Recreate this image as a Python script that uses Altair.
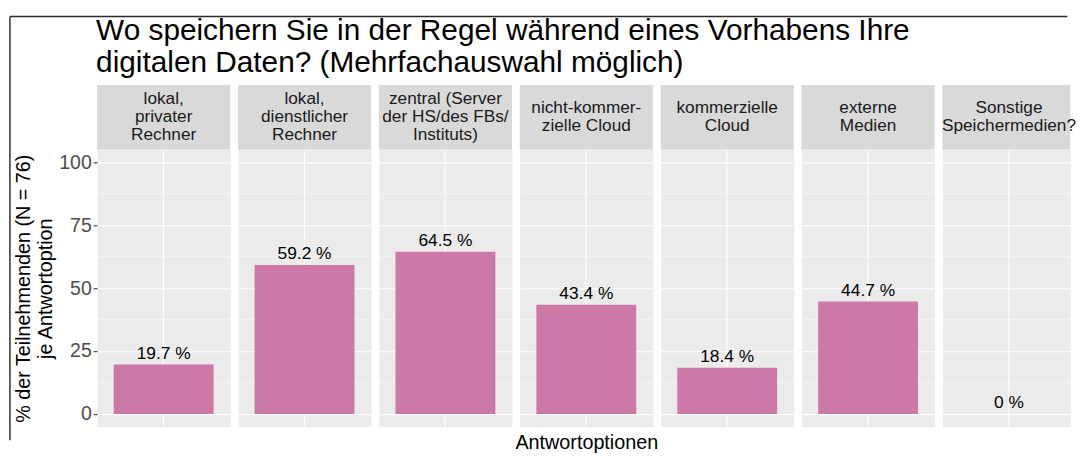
import altair as alt
import pandas as pd

# ---- data ----
strips = [
    "lokal,\nprivater\nRechner",
    "lokal,\ndienstlicher\nRechner",
    "zentral (Server\nder HS/des FBs/\nInstituts)",
    "nicht-kommer-\nzielle Cloud",
    "kommerzielle\nCloud",
    "externe\nMedien",
    "Sonstige\nSpeichermedien?",
]
values = [19.7, 59.2, 64.5, 43.4, 18.4, 44.7, 0]
labels = ["19.7 %", "59.2 %", "64.5 %", "43.4 %", "18.4 %", "44.7 %", "0 %"]
y_ticks = [0, 25, 50, 75, 100]
minor_ticks = [12.5, 37.5, 62.5, 87.5]
title_lines = [
    "Wo speichern Sie in der Regel während eines Vorhabens Ihre",
    "digitalen Daten? (Mehrfachauswahl möglich)",
]
y_title = ["% der Teilnehmenden (N = 76)", "je Antwortoption"]
x_title = "Antwortoptionen"

FONT = "Liberation Sans"
W = 137.5
W_LAST = 132          # last panel is cut by the window edge, as in the reference
SPACING = 7.5
H = 286
STRIP_H = 67
STRIP_LH = 18.7
STRIP_FS = 17.8
BAR_COLOR = "#CC79A7"

yscale = alt.Scale(domain=[-5, 105], nice=False, zero=False)


def panel(i):
    last = i == len(values) - 1
    pw = W_LAST if last else W
    xscale = alt.Scale(paddingInner=0, paddingOuter=1 / 6, range=[0, W])
    df = pd.DataFrame({
        "cat": [f"c{i}"],
        "strip": [strips[i]],
        "value": [values[i]],
        "label": [labels[i]],
    })
    if i == 0:
        yaxis = alt.Axis(
            values=y_ticks, title=y_title, labelFontSize=20.1, labelColor="#4D4D4D",
            tickColor="#333333", tickSize=4, tickWidth=1.1, labelPadding=2,
            domain=False, titleFontSize=20.4, titleColor="black",
            titleFontWeight="normal", titlePadding=4, titleLineHeight=22.4,
            grid=True,
        )
    else:
        yaxis = alt.Axis(values=y_ticks, labels=False, ticks=False, title=None,
                         domain=False, grid=True)
    xaxis = alt.Axis(
        labels=False, ticks=False, domain=False, grid=True,
        title=x_title if i == 3 else None,
        titleFontSize=20.4, titleColor="black", titleFontWeight="normal",
        titlePadding=7,
    )

    def yenc(field):
        return alt.Y(field, type="quantitative", scale=yscale, axis=yaxis)

    base = alt.Chart(df)
    minor = alt.Chart(pd.DataFrame({"value": minor_ticks})).mark_rule(
        color="white", strokeWidth=0.55
    ).encode(y=yenc("value"))
    bars = base.mark_bar(color=BAR_COLOR).encode(
        x=alt.X("cat:N", scale=xscale, axis=xaxis),
        y=yenc("value"),
    )
    text = base.mark_text(
        dy=-6, baseline="alphabetic", fontSize=17.9, font=FONT, color="black"
    ).encode(
        x=alt.X("cat:N", scale=xscale, axis=xaxis),
        y=yenc("value"),
        text="label:N",
    )
    strip_bg = base.mark_rect(color="#D9D9D9").encode(
        x=alt.value(0), x2=alt.value(pw), y=alt.value(-STRIP_H), y2=alt.value(0)
    )
    n_lines = strips[i].count("\n") + 1
    strip_y = -STRIP_H / 2 - (n_lines - 1) / 2 * STRIP_LH
    strip_txt = base.mark_text(
        baseline="middle", align="center", fontSize=STRIP_FS, lineHeight=STRIP_LH,
        lineBreak="\n", font=FONT, color="#1A1A1A"
    ).encode(x=alt.value(W / 2), y=alt.value(strip_y), text="strip:N")

    layers = [minor, bars, text, strip_bg, strip_txt]
    if i == 0:
        tdf = pd.DataFrame({"t": [0]})
        for k, line in enumerate(title_lines):
            layers.append(
                alt.Chart(pd.DataFrame({"t": [line]})).mark_text(
                    align="left", baseline="alphabetic", fontSize=30.75,
                    font=FONT, color="black"
                ).encode(x=alt.value(-1), y=alt.value(-113 + 32.5 * k), text="t:N")
            )
        border_left = alt.Chart(tdf).mark_rule(color="#2B2B2B", strokeWidth=1.5).encode(
            x=alt.value(-90), y=alt.value(-137.6), y2=alt.value(300)
        )
        border_top = alt.Chart(tdf).mark_rule(color="#2B2B2B", strokeWidth=1.5).encode(
            x=alt.value(-90), x2=alt.value(1002), y=alt.value(-137.6)
        )
        layers += [border_left, border_top]
    return alt.layer(*layers).properties(width=pw, height=H)


chart = alt.concat(
    *[panel(i) for i in range(len(values))],
    columns=len(values), spacing=SPACING, bounds="flush", padding=0,
).configure(
    background="white", font=FONT
).configure_view(
    fill="#EBEBEB", stroke="transparent"
).configure_axis(
    gridColor="white", gridWidth=1.1, labelFont=FONT, titleFont=FONT
)

chart.save("out.html", embed_options={"renderer": "svg", "actions": False})
